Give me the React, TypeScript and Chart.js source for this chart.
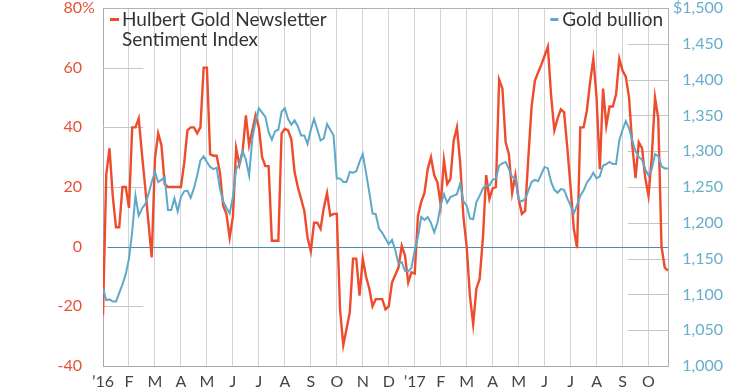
import React, { useEffect, useRef } from "react";
import { Chart, registerables } from "chart.js";

Chart.register(...registerables);

// Month tick labels (one per month start, Jan 2016 .. Oct 2017)
const monthLabels = ["’16", "F", "M", "A", "M", "J", "J", "A", "S", "O", "N", "D", "’17", "F", "M", "A", "M", "J", "J", "A", "S", "O"];
// Observations per month in the series below
const pointsPerMonth = 8;

// Hulbert Gold Newsletter Sentiment Index (%)
const hulbertSentiment = [
  -23, 24, 33, 17, 6.5, 6.5, 20, 20, 13, 40,
  40, 43, 31, 20, 8, -3.6, 29.5, 38, 34, 21,
  20, 20, 20, 20, 20, 28, 39, 40, 40, 38,
  40, 60, 60, 31, 30.5, 30.5, 25, 13.7, 11, 3,
  10, 33, 27.5, 32, 44, 34, 39, 44, 40, 30,
  27, 27, 2, 2, 2, 38, 39.5, 39, 36, 25,
  20, 16, 12, 3, -1.5, 8, 8, 6, 13, 18,
  10.4, 11, 11, -21, -33, -27.6, -22, -4, -4, -16.4,
  -4, -10, -14, -20, -17.6, -17.6, -17.6, -21, -20, -12,
  -9.5, -7, 0.3, -3, -12, -8.6, -9, 10.4, 15, 18,
  26, 30, 24, 21.5, 14, 29, 21, 22.7, 35.5, 40,
  28, 10, 0, -16.5, -26, -14, -10.8, 3, 24, 16,
  19.5, 20, 56, 53, 35, 31, 18, 24, 16, 11,
  12, 30, 47, 55.6, 58.4, 61, 64, 67, 50.6, 39,
  43, 46, 45, 33, 20, 6, -0.5, 40, 40, 45.5,
  55, 63, 50, 26, 53, 40.5, 47, 47, 51, 63,
  59, 57, 50, 34, 23, 35, 33, 23, 17, 30,
  50, 43, 0, -7, -8,
];

// Gold bullion price ($/oz)
const goldBullion = [
  1108, 1092, 1093, 1090, 1090, 1102, 1114, 1128, 1150, 1188,
  1238, 1210, 1220, 1226, 1240, 1257, 1271, 1257, 1260, 1264,
  1218, 1218, 1234, 1216, 1236, 1244, 1245, 1235, 1248, 1266,
  1287, 1293, 1285, 1278, 1275, 1277, 1248, 1230, 1221, 1213,
  1236, 1275, 1282, 1300, 1288, 1266, 1318, 1342, 1360, 1354,
  1348, 1327, 1316, 1328, 1330, 1355, 1360, 1345, 1337, 1343,
  1335, 1322, 1322, 1310, 1330, 1345, 1330, 1315, 1318, 1338,
  1330, 1322, 1262, 1262, 1257, 1257, 1271, 1270, 1272, 1285,
  1296, 1270, 1243, 1213, 1212, 1192, 1186, 1178, 1170, 1176,
  1162, 1143, 1145, 1133, 1132, 1137, 1162, 1180, 1208, 1204,
  1208, 1200, 1187, 1200, 1225, 1240, 1228, 1236, 1238, 1240,
  1255, 1230, 1224, 1206, 1205, 1229, 1238, 1248, 1252, 1252,
  1260, 1262, 1280, 1283, 1285, 1275, 1264, 1262, 1232, 1230,
  1233, 1245, 1257, 1260, 1258, 1268, 1278, 1276, 1257, 1246,
  1242, 1247, 1246, 1234, 1224, 1213, 1225, 1238, 1245, 1256,
  1262, 1270, 1262, 1265, 1280, 1282, 1285, 1282, 1282, 1315,
  1330, 1342, 1332, 1315, 1300, 1292, 1288, 1275, 1266, 1275,
  1296, 1293, 1279, 1276, 1276,
];

const leftGridValues = [60, 40, 20, -20];
const rightGridValues = [1450, 1400, 1350, 1300, 1250, 1200, 1150, 1100, 1050];

const RED = "#ef4b2d";
const BLUE = "#5ea9c9";
const RED_LABEL = "#e5533a";
const BLUE_LABEL = "#68aecb";
const FONT = "Lato, 'Open Sans', sans-serif";

export default function App() {
  const ref = useRef<HTMLCanvasElement>(null);

  useEffect(() => {
    document.body.style.margin = "0";
    const canvas = ref.current!;
    const toPoints = (arr: number[]) => arr.map((v, i) => ({ x: i / pointsPerMonth, y: v }));
    const xMax = (hulbertSentiment.length - 1) / pointsPerMonth;
    const stub = 1.55;

    const decor = {
      id: "decor",
      beforeDatasetsDraw(chart: any) {
        const { ctx, chartArea: a, scales } = chart;
        const x = scales.x, yl = scales.y, yr = scales.y1;
        ctx.save();
        ctx.lineWidth = 1;
        ctx.strokeStyle = "#c6c6c6";
        const lx0 = x.getPixelForValue(0), lx1 = x.getPixelForValue(stub);
        for (const v of leftGridValues) {
          const py = Math.round(yl.getPixelForValue(v)) + 0.5;
          ctx.beginPath(); ctx.moveTo(lx0, py); ctx.lineTo(lx1, py); ctx.stroke();
        }
        const rx0 = x.getPixelForValue(xMax - stub), rx1 = a.right;
        for (const v of rightGridValues) {
          const py = Math.round(yr.getPixelForValue(v)) + 0.5;
          ctx.beginPath(); ctx.moveTo(rx0, py); ctx.lineTo(rx1, py); ctx.stroke();
        }
        // top frame
        ctx.strokeStyle = "#b3b3b3";
        const ty = Math.round(a.top) + 0.5;
        ctx.beginPath(); ctx.moveTo(a.left, ty); ctx.lineTo(a.right, ty); ctx.stroke();
        // zero line
        ctx.strokeStyle = "#4f8bac";
        const zy = Math.round(yl.getPixelForValue(0)) + 0.5;
        ctx.beginPath(); ctx.moveTo(x.getPixelForValue(0.17), zy); ctx.lineTo(a.right, zy); ctx.stroke();
        ctx.restore();
      },
      afterDraw(chart: any) {
        const { ctx, chartArea: a, scales } = chart;
        const yl = scales.y;
        ctx.save();
        // percent sign after the top left tick
        ctx.font = `16px ${FONT}`;
        ctx.fillStyle = RED_LABEL;
        ctx.textAlign = "left";
        ctx.textBaseline = "middle";
        ctx.fillText("%", yl.right - yl.options.ticks.padding, yl.getPixelForValue(yl.max));
        // legends
        ctx.font = `19px ${FONT}`;
        ctx.fillStyle = "#333333";
        const l1 = a.top + 11.5;
        const l2 = l1 + 20;
        ctx.fillText("Hulbert Gold Newsletter", a.left + 19, l1);
        ctx.fillText("Sentiment Index", a.left + 19, l2);
        ctx.fillStyle = RED;
        ctx.fillRect(a.left + 7, l1 - 1.5, 9, 3);
        ctx.textAlign = "right";
        ctx.fillStyle = "#333333";
        const gx = a.right - 5;
        ctx.fillText("Gold bullion", gx, l1);
        const w = ctx.measureText("Gold bullion").width;
        ctx.fillStyle = BLUE;
        ctx.fillRect(gx - w - 12, l1 - 1.5, 8, 3);
        ctx.restore();
      },
    };

    const tickFont = { family: FONT, size: 16 };

    const chart = new Chart(canvas, {
      type: "line",
      data: {
        datasets: [
          {
            label: "Gold bullion",
            data: toPoints(goldBullion),
            yAxisID: "y1",
            borderColor: BLUE,
            borderWidth: 2,
            pointRadius: 0,
            tension: 0,
            order: 0,
          },
          {
            label: "Hulbert Gold Newsletter Sentiment Index",
            data: toPoints(hulbertSentiment),
            yAxisID: "y",
            borderColor: RED,
            borderWidth: 2.4,
            pointRadius: 0,
            tension: 0,
            order: 1,
          },
        ],
      },
      options: {
        responsive: false,
        animation: false,
        events: [],
        layout: { padding: { top: 8, right: 24, bottom: 0, left: 0 } },
        plugins: { legend: { display: false }, tooltip: { enabled: false } },
        scales: {
          x: {
            type: "linear",
            min: 0,
            max: xMax,
            afterBuildTicks: (s: any) => {
              s.ticks = monthLabels.map((_, i) => ({ value: i }));
            },
            ticks: {
              autoSkip: false,
              maxRotation: 0,
              padding: 6,
              color: "#444444",
              font: tickFont,
              callback: (v: any) => monthLabels[v] ?? "",
            },
            grid: { color: "#d3d3d3", drawTicks: false, lineWidth: 1 },
            border: { display: true, color: "#a9a9a9" },
            afterFit: (s: any) => {
              s.height = 24;
              s.paddingLeft = 0;
              s.paddingRight = 0;
            },
          },
          y: {
            type: "linear",
            position: "left",
            min: -40,
            max: 80,
            ticks: { stepSize: 20, padding: 21, color: RED_LABEL, font: tickFont },
            grid: { display: false, drawTicks: false },
            border: { display: true, color: "#a9a9a9" },
            afterFit: (s: any) => {
              s.width = 103;
              s.paddingTop = 0;
              s.paddingBottom = 0;
            },
          },
          y1: {
            type: "linear",
            position: "right",
            min: 1000,
            max: 1500,
            ticks: {
              stepSize: 50,
              crossAlign: "far",
              color: BLUE_LABEL,
              font: tickFont,
              callback: (v: any) => (v === 1500 ? "$" : "") + Number(v).toLocaleString("en-US"),
            },
            grid: { display: false, drawTicks: false },
            border: { display: true, color: "#b3b3b3" },
            afterFit: (s: any) => {
              s.width = 55;
              s.paddingTop = 0;
              s.paddingBottom = 0;
            },
          },
        },
      },
      plugins: [decor],
    } as any);

    return () => chart.destroy();
  }, []);

  return <canvas ref={ref} width={747} height={390} style={{ display: "block" }} />;
}
